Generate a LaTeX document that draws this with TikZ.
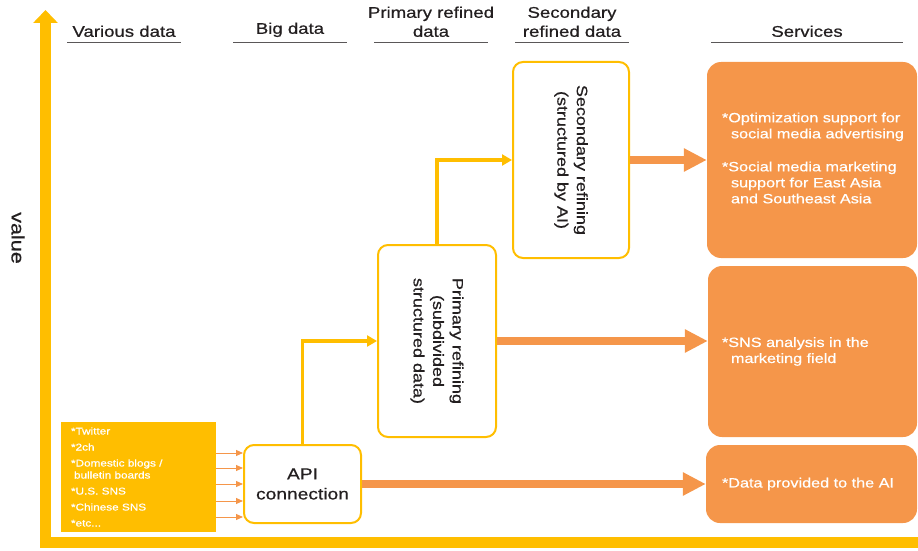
\documentclass[tikz,border=0pt]{standalone}
\usepackage{fontspec}
\setmainfont{Liberation Sans}[FakeStretch=1.2, FakeBold=0.6]
\usepackage{tikz}
\usetikzlibrary{arrows.meta}
\definecolor{amber}{HTML}{FFBE00}
\definecolor{tangerine}{HTML}{F5964A}
\definecolor{inkgray}{HTML}{231F20}

\begin{document}
\begin{tikzpicture}
    [
        x=1pt, y=-1pt,
        axis/.style={amber, line width=11pt, -{Triangle[length=13pt,width=24pt]}},
        heading/.style={font=\fontsize{15.5}{19}\selectfont, text=inkgray, align=center, inner sep=0pt, anchor=south, text depth=0pt},
        rule/.style={draw=inkgray!75, line width=0.9pt},
        srcbox/.style={rectangle, fill=amber, text=white, minimum width=155pt, minimum height=110pt, text width=135pt, inner xsep=10pt, align=left, font=\fontsize{9.8}{16}\selectfont},
        stage/.style={rectangle, draw=amber, line width=2pt, fill=white, rounded corners=10pt, text=inkgray, align=center, inner sep=0pt},
        stagetext/.style={rotate=-90, text=inkgray, align=center, font=\fontsize{15}{19.5}\selectfont},
        service/.style={rectangle, fill=tangerine, rounded corners=14pt},
        servicetext/.style={anchor=west, text=white, align=left, inner sep=0pt, font=\fontsize{13.5}{16}\selectfont},
        link/.style={amber, line width=3.5pt, -{Triangle[length=10pt,width=11pt]}},
        feed/.style={tangerine, line width=1pt, -{Triangle[length=7pt,width=6pt]}},
        push/.style={tangerine, line width=8pt, -{Triangle[length=23pt,width=22pt]}},
    ]
\useasboundingbox (0,0) rectangle (918,551);

% axes
\coordinate (corner) at (45.5,542);
\coordinate (xend) at (918,542);
\coordinate (yend) at (45.5,10);
\draw[axis] (xend) -- (corner) -- (yend);
\node[rotate=-90, text=inkgray, font=\fontsize{18}{20}\selectfont] (value) at (18,238) {value};

% headings
\node[heading] (h1) at (124,37) {Various data};
\node[heading] (h2) at (290,34) {Big data};
\node[heading] (h3) at (431,37) {Primary refined\\data};
\node[heading] (h4) at (572,37) {Secondary\\refined data};
\node[heading] (h5) at (807,37) {Services};
\foreach \h/\w in {h1/57,h2/57,h3/57,h4/57,h5/96}
    \draw[rule] ([xshift=-\w pt]\h.south |- 0,42) -- ([xshift=\w pt]\h.south |- 0,42);

% stages
\node[srcbox] (src) at (138.5,477) {{*}Twitter\\{*}2ch\\{*}Domestic blogs /\\[-4pt]\hspace*{3pt}bulletin boards\\{*}U.S. SNS\\{*}Chinese SNS\\{*}etc...};
\node[stage, minimum width=117pt, minimum height=78pt, font=\fontsize{16}{20}\selectfont] (api) at (302.5,484) {API\\connection};
\node[stage, minimum width=118pt, minimum height=192pt] (prim) at (437,341) {};
\node[stagetext] (primtext) at (prim.center) {Primary refining\\(subdivided\\structured data)};
\node[stage, minimum width=116pt, minimum height=196pt] (sec) at (571,160) {};
\node[stagetext] (sectext) at (sec.center) {Secondary refining\\(structured by AI)};

% services
\node[service, minimum width=210pt, minimum height=196pt] (s1) at (812,160) {};
\node[service, minimum width=209pt, minimum height=171pt] (s2) at (812.5,351.5) {};
\node[service, minimum width=211pt, minimum height=78pt] (s3) at (811.5,484) {};
\node[servicetext] (t1) at ([xshift=15pt,yshift=2pt]s1.west) {{*}Optimization support for\\\hspace*{9pt}social media advertising\\[17pt]{*}Social media marketing\\\hspace*{9pt}support for East Asia\\\hspace*{9pt}and Southeast Asia};
\node[servicetext] (t2) at ([xshift=14pt]s2.west) {{*}SNS analysis in the\\\hspace*{9pt}marketing field};
\node[servicetext] (t3) at ([xshift=16pt]s3.west) {{*}Data provided to the AI};

% connectors
\foreach \y in {453,468,484,501,517}
    \draw[feed] (src.east |- 0,\y) -- (api.west |- 0,\y);
\draw[link] (api.north) |- (prim.west);
\draw[link] (prim.north) |- (sec.west);
\draw[push] (sec.east) -- (s1.west);
\draw[push] (prim.east) -- (prim.east -| s2.west);
\draw[push] (api.east) -- (s3.west);
\end{tikzpicture}
\end{document}
